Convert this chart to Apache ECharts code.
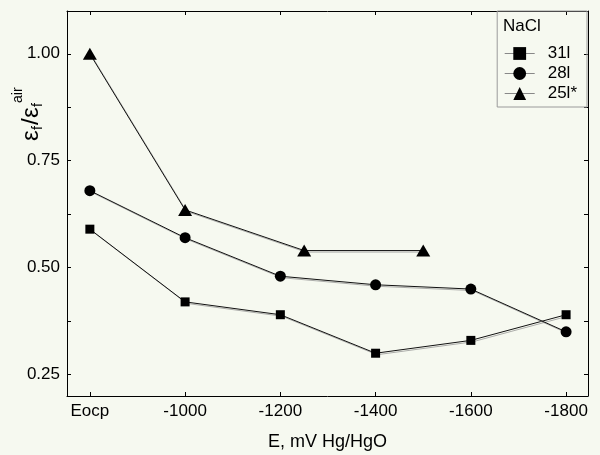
<!DOCTYPE html>
<html>
<head>
<meta charset="utf-8">
<script src="https://cdn.jsdelivr.net/npm/echarts@6/dist/echarts.min.js"></script>
<style>
  html, body { margin: 0; padding: 0; background: #f6f9f0; }
  #chart { width: 600px; height: 455px; }
</style>
</head>
<body>
<div id="chart"></div>
<script>
// Potential positions (mV vs Hg/HgO); -800 stands for the open-circuit potential "Eocp"
const potentials = [-800, -1000, -1200, -1400, -1600, -1800];
const potentialsTriangle = [-800, -1000, -1250, -1500];

// Normalised fracture strain, eps_f / eps_f(air)
const ratio31 = [0.59, 0.42, 0.39, 0.30, 0.33, 0.39];
const ratio28 = [0.68, 0.57, 0.48, 0.46, 0.45, 0.35];
const ratio25 = [1.00, 0.635, 0.54, 0.54];

const seriesNames = ['31l', '28l', '25l*'];
const yTickLabels = [0.25, 0.50, 0.75, 1.00];
const yTicks = [0.25, 0.375, 0.5, 0.625, 0.75, 0.875, 1.0];
const xTickLabels = ['Eocp', '-1000', '-1200', '-1400', '-1600', '-1800'];

const FONT = 'Liberation Sans, Arial, sans-serif';

function pairs(xs, ys) {
  return xs.map((x, i) => [x, ys[i]]);
}

const chart = echarts.init(document.getElementById('chart'), null, { renderer: 'canvas' });

const lineShadow = {
  color: '#111',
  width: 1,
  shadowColor: 'rgba(140,140,140,0.7)',
  shadowOffsetX: 1.5,
  shadowOffsetY: 1.5,
  shadowBlur: 0
};

const xBase = {
  type: 'value',
  inverse: true,
  min: -1846,
  max: -752,
  splitLine: { show: false },
  axisLine: { show: true, lineStyle: { color: '#000', width: 1 } },
  axisTick: { show: true, inside: true, length: 4, customValues: potentials, lineStyle: { color: '#000' } }
};

const yBase = {
  type: 'value',
  min: 0.2,
  max: 1.1,
  splitLine: { show: false },
  axisLine: { show: true, lineStyle: { color: '#000', width: 1 } },
  axisTick: { show: true, inside: true, length: 4, customValues: yTicks, lineStyle: { color: '#000' } }
};

chart.setOption({
  backgroundColor: '#f6f9f0',
  animation: false,
  grid: {
    left: 67, right: 12, top: 11, bottom: 59,
    outerBoundsMode: 'none'
  },
  legend: {
    orient: 'vertical',
    right: 13,
    top: 11,
    padding: [34, 10, 5, 7],
    itemGap: 3,
    itemWidth: 30,
    itemHeight: 16,
    borderColor: '#9a9a9a',
    borderWidth: 1,
    data: seriesNames,
    textStyle: { fontFamily: FONT, fontSize: 17, lineHeight: 16, color: '#000', padding: [0, 0, 0, 8] },
    lineStyle: { color: '#888', width: 1 }
  },
  xAxis: [
    Object.assign({}, xBase, {
      position: 'bottom',
      name: 'E, mV Hg/HgO',
      nameLocation: 'middle',
      nameGap: 37,
      nameTextStyle: { fontFamily: FONT, fontSize: 18, color: '#000' },
      axisLabel: {
        show: true,
        margin: 7,
        customValues: potentials,
        fontFamily: FONT,
        fontSize: 17,
        color: '#000',
        formatter: function (v) {
          const i = potentials.indexOf(v);
          return i >= 0 ? xTickLabels[i] : '';
        }
      }
    }),
    Object.assign({}, xBase, {
      position: 'top',
      axisLabel: { show: false }
    })
  ],
  yAxis: [
    Object.assign({}, yBase, {
      position: 'left',
      axisLabel: {
        show: true,
        margin: 7,
        customValues: yTickLabels,
        fontFamily: FONT,
        fontSize: 17,
        color: '#000',
        formatter: function (v) { return v.toFixed(2); }
      }
    }),
    Object.assign({}, yBase, {
      position: 'right',
      axisLabel: { show: false }
    })
  ],
  series: [
    {
      name: seriesNames[0],
      type: 'line',
      data: pairs(potentials, ratio31),
      symbol: 'rect',
      symbolSize: 9,
      itemStyle: { color: '#000' },
      lineStyle: lineShadow
    },
    {
      name: seriesNames[1],
      type: 'line',
      data: pairs(potentials, ratio28),
      symbol: 'circle',
      symbolSize: 11,
      itemStyle: { color: '#000' },
      lineStyle: lineShadow
    },
    {
      name: seriesNames[2],
      type: 'line',
      data: pairs(potentialsTriangle, ratio25),
      symbol: 'triangle',
      symbolSize: [14, 12],
      itemStyle: { color: '#000' },
      lineStyle: lineShadow
    }
  ],
  graphic: [
    {
      type: 'text',
      left: 503,
      top: 18,
      style: { text: 'NaCl', fontFamily: FONT, fontSize: 17, fill: '#000' }
    },
    {
      // rotated y-axis title: eps_f / eps_f^air
      type: 'group',
      x: 31,
      y: 141,
      rotation: Math.PI / 2,
      children: [
        { type: 'text', x: 0, y: 0, style: { text: 'ε', fontFamily: FONT, fontSize: 24, fill: '#000', verticalAlign: 'middle' } },
        { type: 'text', x: 11, y: 7, style: { text: 'f', fontFamily: FONT, fontSize: 14, fill: '#000', verticalAlign: 'middle' } },
        { type: 'text', x: 16, y: 0, style: { text: '/', fontFamily: FONT, fontSize: 24, fill: '#000', verticalAlign: 'middle' } },
        { type: 'text', x: 23, y: 0, style: { text: 'ε', fontFamily: FONT, fontSize: 24, fill: '#000', verticalAlign: 'middle' } },
        { type: 'text', x: 34, y: 7, style: { text: 'f', fontFamily: FONT, fontSize: 14, fill: '#000', verticalAlign: 'middle' } },
        { type: 'text', x: 38, y: -13, style: { text: 'air', fontFamily: FONT, fontSize: 14, fill: '#000', verticalAlign: 'middle' } }
      ]
    }
  ]
});
</script>
</body>
</html>
